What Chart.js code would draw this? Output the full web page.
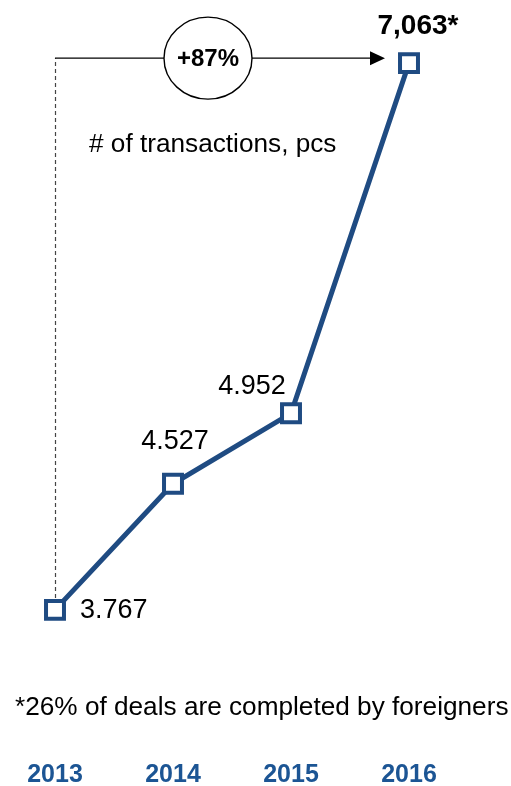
<!DOCTYPE html>
<html>
<head>
<meta charset="utf-8">
<script src="https://cdn.jsdelivr.net/npm/chart.js@4/dist/chart.umd.min.js"></script>
<style>
  html, body { margin: 0; padding: 0; background: #fff; }
  #wrap { width: 511px; height: 786px; position: relative; }
</style>
</head>
<body>
<div id="wrap"><canvas id="c" width="511" height="786"></canvas></div>
<script>
const years = ['2013', '2014', '2015', '2016'];
const transactions = [3767, 4527, 4952, 7063];
const valueLabels = ['3.767', '4.527', '4.952', '7,063*'];
const growthLabel = '+87%';
const subtitle = '# of transactions, pcs';
const footnote = '*26% of deals are completed by foreigners';

const FONT = "'Liberation Sans', Arial, sans-serif";
const LINE = '#1F4B82';
const YEAR = '#1C5594';

// label placement relative to each point
const labelPlace = [
  { dx: 25, dy: 1, align: 'left', bold: false },
  { dx: 2, dy: -42, align: 'center', bold: false },
  { dx: -39, dy: -27, align: 'center', bold: false },
  { dx: 9, dy: -37, align: 'center', bold: true }
];

const overlay = {
  id: 'overlay',
  afterDatasetsDraw(chart) {
    const ctx = chart.ctx;
    const meta = chart.getDatasetMeta(0);
    const p0 = meta.data[0], pN = meta.data[meta.data.length - 1];
    const lineY = pN.y - 5;
    ctx.save();
    // dashed vertical
    ctx.strokeStyle = '#444';
    ctx.lineWidth = 1.2;
    ctx.setLineDash([4, 3]);
    ctx.beginPath();
    ctx.moveTo(p0.x + 0.5, p0.y - 12);
    ctx.lineTo(p0.x + 0.5, lineY);
    ctx.stroke();
    ctx.setLineDash([]);
    // horizontal arrow
    ctx.strokeStyle = '#000';
    ctx.lineWidth = 1.3;
    const tipX = pN.x - 24;
    ctx.beginPath();
    ctx.moveTo(p0.x, lineY);
    ctx.lineTo(tipX - 12, lineY);
    ctx.stroke();
    ctx.fillStyle = '#000';
    ctx.beginPath();
    ctx.moveTo(tipX, lineY);
    ctx.lineTo(tipX - 15, lineY - 7);
    ctx.lineTo(tipX - 15, lineY + 7);
    ctx.closePath();
    ctx.fill();
    // circle
    const cx = 208;
    ctx.beginPath();
    ctx.ellipse(cx, lineY, 44, 41, 0, 0, Math.PI * 2);
    ctx.fillStyle = '#fff';
    ctx.fill();
    ctx.lineWidth = 1.4;
    ctx.stroke();
    ctx.fillStyle = '#000';
    ctx.font = 'bold 24px ' + FONT;
    ctx.textAlign = 'center';
    ctx.textBaseline = 'middle';
    ctx.fillText(growthLabel, cx, lineY + 1);
    // subtitle
    ctx.font = '26.2px ' + FONT;
    ctx.textBaseline = 'alphabetic';
    ctx.textAlign = 'left';
    ctx.fillText(subtitle, 89, 152);
    // footnote
    ctx.fillText(footnote, 15, 715);
    // value labels
    meta.data.forEach((pt, i) => {
      const pl = labelPlace[i];
      ctx.font = (pl.bold ? 'bold 28px ' : '27px ') + FONT;
      ctx.textAlign = pl.align;
      ctx.textBaseline = 'middle';
      ctx.fillText(valueLabels[i], pt.x + pl.dx, pt.y + pl.dy);
    });
    ctx.restore();
  }
};

new Chart(document.getElementById('c'), {
  type: 'line',
  data: {
    labels: years,
    datasets: [{
      data: transactions,
      borderColor: LINE,
      borderWidth: 5,
      pointStyle: 'rect',
      pointRadius: 12.7,
      pointBorderWidth: 4,
      pointBackgroundColor: '#fff',
      pointBorderColor: LINE,
      tension: 0,
      clip: false
    }]
  },
  options: {
    responsive: false,
    animation: false,
    events: [],
    layout: { padding: { top: 57, left: 55, right: 102, bottom: 0 } },
    plugins: { legend: { display: false }, tooltip: { enabled: false } },
    scales: {
      x: {
        offset: false,
        grid: { display: false, drawTicks: false },
        border: { display: false },
        ticks: {
          color: YEAR,
          font: { family: FONT, size: 25, weight: 'bold' },
          padding: 139,
          maxRotation: 0,
          autoSkip: false
        },
        afterFit(axis) {
          axis.height = 165;
          axis.paddingLeft = 0;
          axis.paddingRight = 0;
        }
      },
      y: {
        display: false,
        min: 3700,
        max: 7100
      }
    }
  },
  plugins: [overlay]
});
</script>
</body>
</html>
